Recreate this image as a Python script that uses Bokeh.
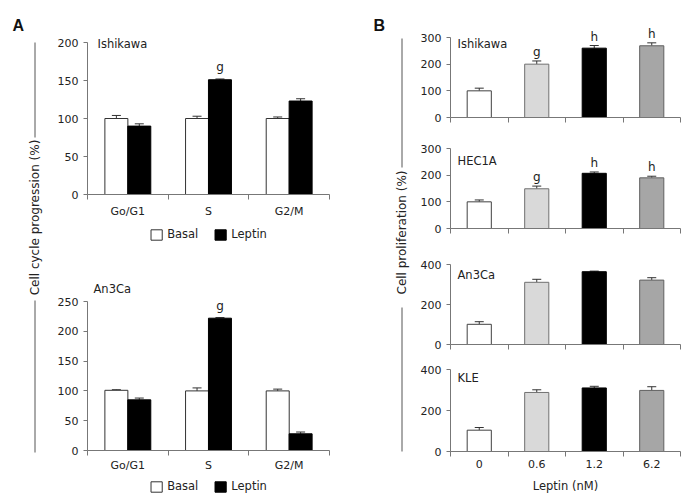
import numpy as np
from bokeh.plotting import figure
from bokeh.layouts import row, column
from bokeh.models import (Range1d, FixedTicker, Whisker, TeeHead, ColumnDataSource,
                          LabelSet, Label, Legend, LegendItem)
from bokeh.embed import file_html
from bokeh.resources import INLINE
from bokeh.core.properties import value

# ---------------- data ----------------
phases = ["Go/G1", "S", "G2/M"]

cc_ishikawa_basal = [100, 100, 100]
cc_ishikawa_basal_err = [4, 3, 2]
cc_ishikawa_leptin = [90, 151, 123]
cc_ishikawa_leptin_err = [3, 1, 3]
cc_ishikawa_sig = ["", "g", ""]

cc_an3ca_basal = [101, 100, 100]
cc_an3ca_basal_err = [1, 5, 3]
cc_an3ca_leptin = [85, 222, 28]
cc_an3ca_leptin_err = [3, 1, 3]
cc_an3ca_sig = ["", "g", ""]

doses = ["0", "0.6", "1.2", "6.2"]
pr_ishikawa = [100, 200, 260, 269]
pr_ishikawa_err = [10, 12, 10, 11]
pr_ishikawa_sig = ["", "g", "h", "h"]
pr_hec1a = [100, 149, 207, 190]
pr_hec1a_err = [7, 10, 5, 6]
pr_hec1a_sig = ["", "g", "h", "h"]
pr_an3ca = [101, 311, 364, 322]
pr_an3ca_err = [13, 15, 3, 12]
pr_an3ca_sig = ["", "", "", ""]
pr_kle = [104, 288, 310, 298]
pr_kle_err = [13, 13, 8, 18]
pr_kle_sig = ["", "", "", ""]

legend_labels = ["Basal", "Leptin"]

# ---------------- style ----------------
FONT = "DejaVu Sans"
TXT = "#222222"
AX = "#777777"
ERR = "#333333"
CC_FILL = ["#ffffff", "#000000"]
CC_LINE = ["#333333", "#000000"]
DOSE_FILL = ["#ffffff", "#d9d9d9", "#000000", "#a6a6a6"]
DOSE_LINE = ["#404040", "#707070", "#000000", "#606060"]
TOTAL_H = 501


def base_fig(width, height, n, ymax, frame_px, borders):
    """Frame runs from the figure top; frame_px = pixels between axis 0 and ymax."""
    left, right, bottom = borders
    frame_h = height - bottom
    y_end = ymax * frame_h / frame_px
    p = figure(width=width, height=height, x_range=Range1d(0, n),
               y_range=Range1d(0, y_end),
               output_backend="svg", toolbar_location=None, title_location=None,
               min_border_left=left, min_border_right=right,
               min_border_top=0, min_border_bottom=bottom)
    p.outline_line_color = None
    p.grid.visible = False
    return p


def style_y(p, ymax, ystep):
    ax = p.yaxis[0]
    ax.ticker = FixedTicker(ticks=list(range(0, ymax + 1, ystep)))
    ax.bounds = (0, ymax)
    ax.axis_line_color = AX
    ax.major_tick_line_color = AX
    ax.major_tick_out = 4
    ax.major_tick_in = 0
    ax.minor_tick_line_color = None
    ax.major_label_text_font = FONT
    ax.major_label_text_font_size = "11px"
    ax.major_label_text_color = TXT
    ax.major_label_standoff = 5


def style_x(p, labels, show_labels, standoff):
    n = len(labels)
    ax = p.xaxis[0]
    if show_labels:
        centers = [i + 0.5 for i in range(n)]
        ax.ticker = FixedTicker(ticks=centers, minor_ticks=list(range(n + 1)))
        ax.major_label_overrides = {c: lab for c, lab in zip(centers, labels)}
    else:
        ax.ticker = FixedTicker(ticks=[], minor_ticks=list(range(n + 1)))
    ax.axis_line_color = AX
    ax.major_tick_line_color = None
    ax.major_tick_out = 5
    ax.major_tick_in = 0
    ax.minor_tick_line_color = AX
    ax.minor_tick_out = 5
    ax.minor_tick_in = 0
    ax.major_label_text_font = FONT
    ax.major_label_text_font_size = "11px"
    ax.major_label_text_color = TXT
    ax.major_label_standoff = standoff


def add_errors(p, src):
    p.add_layout(Whisker(source=src, base="x", lower="top", upper="upper",
                         dimension="height", line_color=ERR, line_width=1,
                         lower_head=None,
                         upper_head=TeeHead(size=9, line_color=ERR, line_width=1)))


def add_title(p, text, ymax, dx, dy):
    p.add_layout(Label(x=0, y=ymax, x_offset=dx, y_offset=dy, text=text,
                       text_font=FONT, text_font_size="11.5px", text_color=TXT,
                       text_baseline="alphabetic", text_align="left"))


def add_sig(p, src, dy):
    p.add_layout(LabelSet(source=src, x="x", y="upper", text="sig", y_offset=dy,
                          text_align="center", text_baseline="alphabetic",
                          text_font=value(FONT), text_font_size="12px",
                          text_color=TXT))


def cell_cycle_panel(name, basal, basal_err, leptin, leptin_err, sig, ymax, ystep,
                     height, frame_px, borders, title_off, x_standoff):
    n = len(phases)
    p = base_fig(315, height, n, ymax, frame_px, borders)
    centers = np.arange(n) + 0.5
    off, w = 0.142, 0.285
    src_b = ColumnDataSource(dict(x=centers - off, top=basal,
                                  upper=np.add(basal, basal_err)))
    src_l = ColumnDataSource(dict(x=centers + off, top=leptin,
                                  upper=np.add(leptin, leptin_err), sig=sig))
    p.vbar(x="x", top="top", width=w, source=src_b, fill_color=CC_FILL[0],
           line_color=CC_LINE[0], line_width=1)
    p.vbar(x="x", top="top", width=w, source=src_l, fill_color=CC_FILL[1],
           line_color=CC_LINE[1], line_width=1)
    add_errors(p, src_b)
    add_errors(p, src_l)
    add_sig(p, src_l, 8)
    style_y(p, ymax, ystep)
    style_x(p, phases, True, x_standoff)
    add_title(p, name, ymax, *title_off)
    return p


def legend_fig(height, left_border, margin):
    # small strip holding the Basal / Leptin key; its proxy bars sit outside the range
    lf = figure(width=315, height=height, x_range=Range1d(0, 1), y_range=Range1d(0, 1),
                output_backend="svg", toolbar_location=None, title_location=None,
                x_axis_location=None, y_axis_location=None,
                min_border_left=left_border, min_border_right=0,
                min_border_top=0, min_border_bottom=0)
    lf.outline_line_color = None
    lf.grid.visible = False
    items = []
    for lab, fc, lc in zip(legend_labels, CC_FILL, CC_LINE):
        proxy = ColumnDataSource(dict(x=[-5.0], top=[-5.0]))
        r = lf.vbar(x="x", top="top", bottom=-6.0, width=0.1, source=proxy,
                    fill_color=fc, line_color=lc, line_width=1)
        items.append(LegendItem(label=value(lab), renderers=[r]))
    lg = Legend(items=items, orientation="horizontal", location="top_center",
                glyph_width=14, glyph_height=13, label_height=13,
                label_standoff=4, spacing=15, padding=0, margin=margin,
                border_line_color=None, background_fill_alpha=0,
                label_text_font=FONT, label_text_font_size="11.5px",
                label_text_color=TXT)
    lf.add_layout(lg, "center")
    return lf


def prolif_panel(name, vals, errs, sig, ymax, ystep, height, frame_px, borders,
                 title_off, show_labels=False):
    n = len(doses)
    p = base_fig(284, height, n, ymax, frame_px, borders)
    centers = np.arange(n) + 0.5
    src = ColumnDataSource(dict(x=centers, top=vals, upper=np.add(vals, errs),
                                sig=sig, fill=DOSE_FILL, line=DOSE_LINE))
    p.vbar(x="x", top="top", width=0.42, source=src, fill_color="fill",
           line_color="line", line_width=1)
    add_errors(p, src)
    add_sig(p, src, 5)
    style_y(p, ymax, ystep)
    style_x(p, doses, show_labels, 3)
    add_title(p, name, ymax, *title_off)
    if show_labels:
        ax = p.xaxis[0]
        ax.axis_label = "Leptin (nM)"
        ax.axis_label_text_font = FONT
        ax.axis_label_text_font_size = "11.5px"
        ax.axis_label_text_font_style = "normal"
        ax.axis_label_text_color = TXT
        ax.axis_label_standoff = 8
    return p


def strip(width, x0, letter, title, line_x, line_segs, title_cy):
    s = figure(width=width, height=TOTAL_H, x_range=Range1d(0, width),
               y_range=Range1d(0, TOTAL_H), output_backend="svg",
               toolbar_location=None, title_location=None,
               x_axis_location=None, y_axis_location=None,
               min_border_left=0, min_border_right=0,
               min_border_top=0, min_border_bottom=0)
    s.outline_line_color = None
    s.grid.visible = False

    def sy(py):
        return TOTAL_H - py

    lx = line_x - x0
    s.segment(x0=[lx] * len(line_segs), x1=[lx] * len(line_segs),
              y0=[sy(a) for a, b in line_segs], y1=[sy(b) for a, b in line_segs],
              line_color="#555555", line_width=1)
    s.add_layout(Label(x=lx, y=sy(title_cy), text=title, angle=np.pi / 2,
                       text_align="center", text_baseline="middle",
                       text_font=FONT, text_font_size="12px", text_color=TXT))
    s.add_layout(Label(x=letter[1] - x0, y=sy(letter[2]), text=letter[0],
                       text_font="Liberation Sans", text_font_style="bold",
                       text_font_size="16px", text_color="#111111",
                       text_baseline="alphabetic", text_align="left"))
    return s


strip_a = strip(45, 0, ("A", 12, 25), "Cell cycle progression (%)", 34.5,
                [(42, 137), (300, 452)], 217)
strip_b = strip(52, 360, ("B", 373, 25), "Cell proliferation (%)", 401.5,
                [(38, 167), (307, 451)], 232)

# left column: figure y 0..224 | 224..248 | 248..477 | 477..501
pa1 = cell_cycle_panel("Ishikawa", cc_ishikawa_basal, cc_ishikawa_basal_err,
                       cc_ishikawa_leptin, cc_ishikawa_leptin_err, cc_ishikawa_sig,
                       200, 50, 224, 152, (37, 31, 30), (10, -1), 5)
leg1 = legend_fig(24, 18, 3)
pa2 = cell_cycle_panel("An3Ca", cc_an3ca_basal, cc_an3ca_basal_err,
                       cc_an3ca_leptin, cc_an3ca_leptin_err, cc_an3ca_sig,
                       250, 50, 229, 149, (42, 27, 27), (6, 13), 3)
leg2 = legend_fig(24, 15, 2)

# right column: figure y 0..133 | 133..240 | 240..357 | 357..501
pb1 = prolif_panel("Ishikawa", pr_ishikawa, pr_ishikawa_err, pr_ishikawa_sig,
                   300, 100, 133, 80, (38, 16, 16), (7, -6))
pb2 = prolif_panel("HEC1A", pr_hec1a, pr_hec1a_err, pr_hec1a_sig,
                   300, 100, 107, 80, (38, 16, 12), (7, -12))
pb3 = prolif_panel("An3Ca", pr_an3ca, pr_an3ca_err, pr_an3ca_sig,
                   400, 200, 117, 80, (38, 16, 13), (7, -10))
pb4 = prolif_panel("KLE", pr_kle, pr_kle_err, pr_kle_sig,
                   400, 200, 144, 82, (38, 16, 50), (7, -8), show_labels=True)

layout = row(strip_a, column(pa1, leg1, pa2, leg2), strip_b,
             column(pb1, pb2, pb3, pb4))

with open("out.html", "w") as f:
    f.write(file_html(layout, INLINE))
